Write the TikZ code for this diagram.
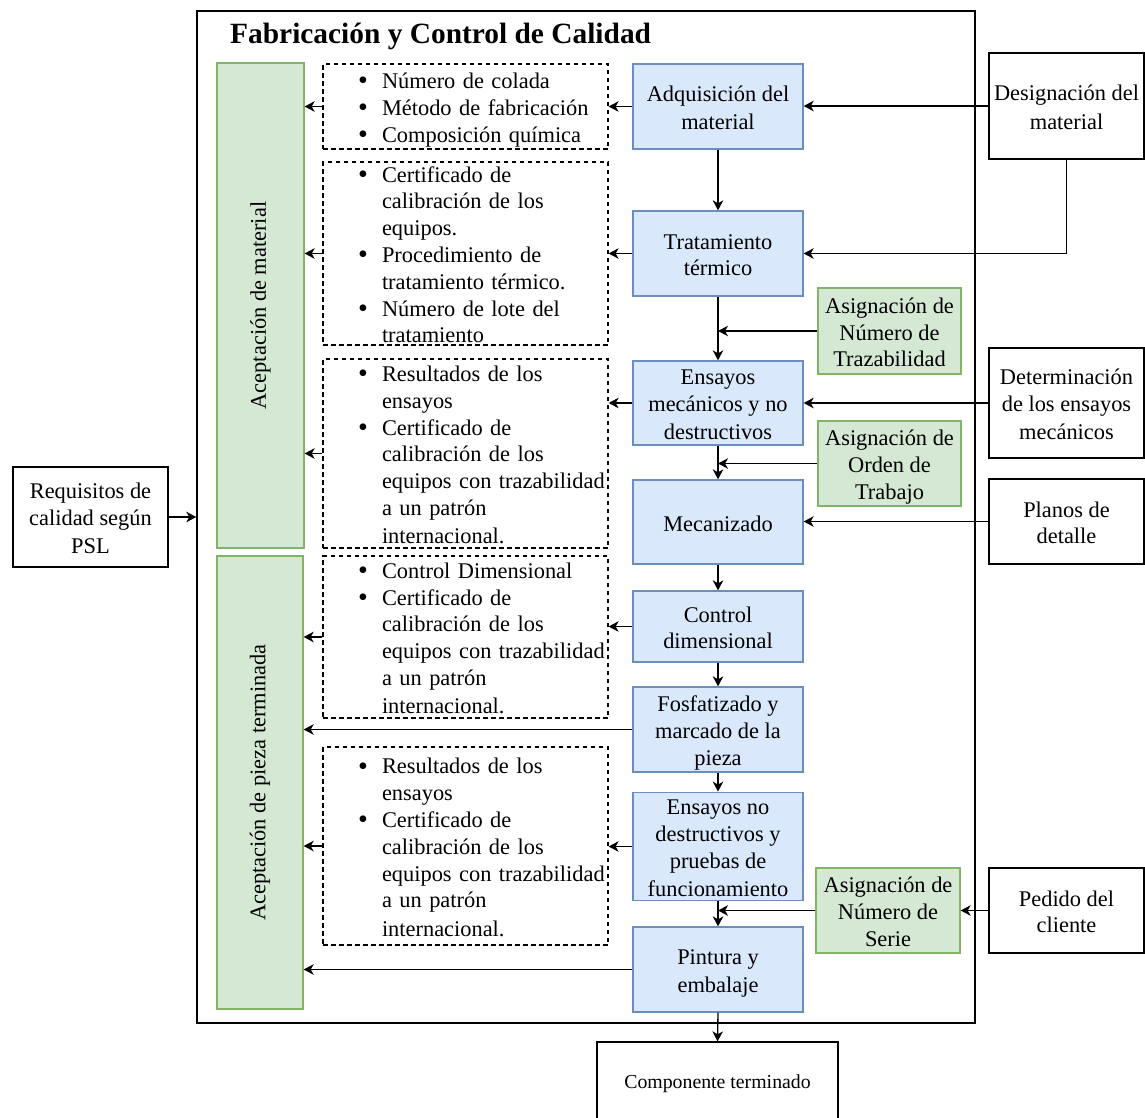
\documentclass[tikz,border=0pt]{standalone}
\usepackage{graphicx}
\usepackage{fontspec}
\setmainfont{Liberation Serif}
\usetikzlibrary{arrows.meta}
\definecolor{bluefill}{HTML}{DAE8FC}
\definecolor{bluedraw}{HTML}{6C8EBF}
\definecolor{greenfill}{HTML}{D5E8D4}
\definecolor{greendraw}{HTML}{82B366}
% full line box so that multi-line labels centre on their line boxes
\newcommand\linestrut{\rule[-4.4pt]{0pt}{26.8pt}}
\newcommand\tlines[1]{\linestrut#1\linestrut}
% bullet lines inside the dashed evidence boxes
\newcommand\bigbullet{\raisebox{-1.2pt}{\scalebox{1.25}{\textbullet}}}
\newcommand\bulitem[1]{\hspace*{35pt}\makebox[24pt][l]{\bigbullet}#1}
\newcommand\bulcont[1]{\hspace*{59pt}#1}
\begin{document}
\begin{tikzpicture}[x=1pt,y=-1pt,
  txt/.style={font=\fontsize{22.4pt}{26.8pt}\selectfont, align=center, inner sep=0pt, line width=1.3pt},
  procbox/.style={txt, draw=bluedraw, fill=bluefill, minimum width=170pt},
  asgbox/.style={txt, draw=greendraw, fill=greenfill},
  extbox/.style={txt, draw=black, minimum width=155pt},
  dashbox/.style={draw=black, line width=1.2pt, dash pattern=on 4.5pt off 3.5pt, minimum width=285pt, inner sep=0pt},
  listtext/.style={txt, align=left, text width=285pt},
  flow/.style={-{Stealth[length=10pt,width=10.5pt,inset=3pt]}, line width=1.3pt}]
\useasboundingbox (0,0) rectangle (1145,1117);
\clip (0,0) rectangle (1145,1117);

% enclosing frame and title
\node[draw=black, line width=1.4pt, minimum width=778pt, minimum height=1012pt, inner sep=0pt] (frame) at (586,517) {};
\node[font=\fontsize{29.4pt}{35pt}\selectfont\bfseries, anchor=base west, inner sep=0pt] (title) at (230,43) {Fabricación y Control de Calidad};

% acceptance columns
\node[asgbox, minimum width=87pt, minimum height=485pt] (g1) at (260.5,305.5) {};
\node[txt, rotate=90] (g1t) at (g1.center) {Aceptación de material};
\node[asgbox, minimum width=86pt, minimum height=453pt] (g2) at (260,782.5) {};
\node[txt, rotate=90] (g2t) at (g2.center) {Aceptación de pieza terminada};

% evidence boxes
\node[dashbox, minimum height=85pt] (d1) at (465.5,106.5) {};
\node[listtext] (d1t) at (d1.center) {\tlines{\bulitem{Número de colada}\\\bulitem{Método de fabricación}\\\bulitem{Composición química}}};
\node[dashbox, minimum height=183pt] (d2) at (465.5,253.5) {};
\node[listtext] (d2t) at (d2.center) {\tlines{\bulitem{Certificado de}\\\bulcont{calibración de los}\\\bulcont{equipos.}\\\bulitem{Procedimiento de}\\\bulcont{tratamiento térmico.}\\\bulitem{Número de lote del}\\\bulcont{tratamiento}}};
\node[dashbox, minimum height=189pt] (d3) at (465.5,453.5) {};
\node[listtext] (d3t) at (d3.center) {\tlines{\bulitem{Resultados de los}\\\bulcont{ensayos}\\\bulitem{Certificado de}\\\bulcont{calibración de los}\\\bulcont{equipos con trazabilidad}\\\bulcont{a un patrón}\\\bulcont{internacional.}}};
\node[dashbox, minimum height=162pt] (d4) at (465.5,637) {};
\node[listtext] (d4t) at (d4.center) {\tlines{\bulitem{Control Dimensional}\\\bulitem{Certificado de}\\\bulcont{calibración de los}\\\bulcont{equipos con trazabilidad}\\\bulcont{a un patrón}\\\bulcont{internacional.}}};
\node[dashbox, minimum height=198pt] (d5) at (465.5,846) {};
\node[listtext] (d5t) at (d5.center) {\tlines{\bulitem{Resultados de los}\\\bulcont{ensayos}\\\bulitem{Certificado de}\\\bulcont{calibración de los}\\\bulcont{equipos con trazabilidad}\\\bulcont{a un patrón}\\\bulcont{internacional.}}};

% process steps
\node[procbox, minimum height=85pt] (b1) at (718,106.5) {\tlines{Adquisición del\\material}};
\node[procbox, minimum height=85pt] (b2) at (718,253.5) {\tlines{Tratamiento\\térmico}};
\node[procbox, minimum height=84pt] (b3) at (718,403) {\tlines{Ensayos\\mecánicos y no\\destructivos}};
\node[procbox, minimum height=84pt] (b4) at (718,522) {\tlines{Mecanizado}};
\node[procbox, minimum height=71pt] (b5) at (718,626.5) {\tlines{Control\\dimensional}};
\node[procbox, minimum height=85pt] (b6) at (718,729.5) {\tlines{Fosfatizado y\\marcado de la\\pieza}};
\node[procbox, minimum height=107pt] (b7) at (718,846.5) {\tlines{Ensayos no\\destructivos y\\pruebas de\\funcionamiento}};
\node[procbox, minimum height=85pt] (b8) at (718,969.5) {\tlines{Pintura y\\embalaje}};

% assignments
\node[asgbox, minimum width=143pt, minimum height=86pt] (a1) at (889.5,331) {\tlines{Asignación de\\Número de\\Trazabilidad}};
\node[asgbox, minimum width=143pt, minimum height=85pt] (a2) at (889.5,463.5) {\tlines{Asignación de\\Orden de\\Trabajo}};
\node[asgbox, minimum width=144pt, minimum height=85pt] (a3) at (888,910.5) {\tlines{Asignación de\\Número de\\Serie}};

% external inputs and output
\node[extbox, minimum height=106pt] (r1) at (1066.5,106) {\tlines{Designación del\\material}};
\node[extbox, minimum height=110pt] (r2) at (1066.5,403) {\tlines{Determinación\\de los ensayos\\mecánicos}};
\node[extbox, minimum height=85pt] (r3) at (1066.5,521.5) {\tlines{Planos de\\detalle}};
\node[extbox, minimum height=85pt] (r4) at (1066.5,910.5) {\tlines{Pedido del\\cliente}};
\node[extbox, minimum height=100pt] (req) at (90.5,517) {\tlines{Requisitos de\\calidad según\\PSL}};
\node[extbox, minimum width=241pt, minimum height=84pt, font=\fontsize{19.8pt}{24pt}\selectfont] (done) at (717.5,1084) {Componente terminado};

% main flow
\draw[flow] (b1.south) -- (b2.north);
\draw[flow] (b2.south) -- (b3.north);
\draw[flow] (b3.south) -- (b4.north);
\draw[flow] (b4.south) -- (b5.north);
\draw[flow] (b5.south) -- (b6.north);
\draw[flow] (b6.south) -- (b7.north);
\draw[flow] (b7.south) -- (b8.north);
\draw[flow] (b8.south) -- (done.north);

% records produced by each step
\draw[flow] (b1.west) -- (d1.east);
\draw[flow] (d1.west) -- (d1.west -| g1.east);
\draw[flow] (b2.west) -- (d2.east);
\draw[flow] (d2.west) -- (d2.west -| g1.east);
\draw[flow] (b3.west) -- (b3.west -| d3.east);
\draw[flow] (d3.west) -- (d3.west -| g1.east);
\draw[flow] (b5.west) -- (b5.west -| d4.east);
\draw[flow] (d4.west) -- (d4.west -| g2.east);
\draw[flow] (b6.west) -- (b6.west -| g2.east);
\draw[flow] (b7.west) -- (b7.west -| d5.east);
\draw[flow] (d5.west) -- (d5.west -| g2.east);
\draw[flow] (b8.west) -- (b8.west -| g2.east);

% assignments feeding the flow
\draw[flow] (a1.west) -- (a1.west -| b2.south);
\draw[flow] (a2.west) -- (a2.west -| b3.south);
\draw[flow] (a3.west) -- (a3.west -| b7.south);

% external inputs
\draw[flow] (r1.west) -- (r1.west -| b1.east);
\draw[flow] (r1.south) |- (b2.east);
\draw[flow] (r2.west) -- (b3.east);
\draw[flow] (r3.west) -- (r3.west -| b4.east);
\draw[flow] (r4.west) -- (a3.east);
\draw[flow] (req.east) -- (req.east -| frame.west);
\end{tikzpicture}
\end{document}
